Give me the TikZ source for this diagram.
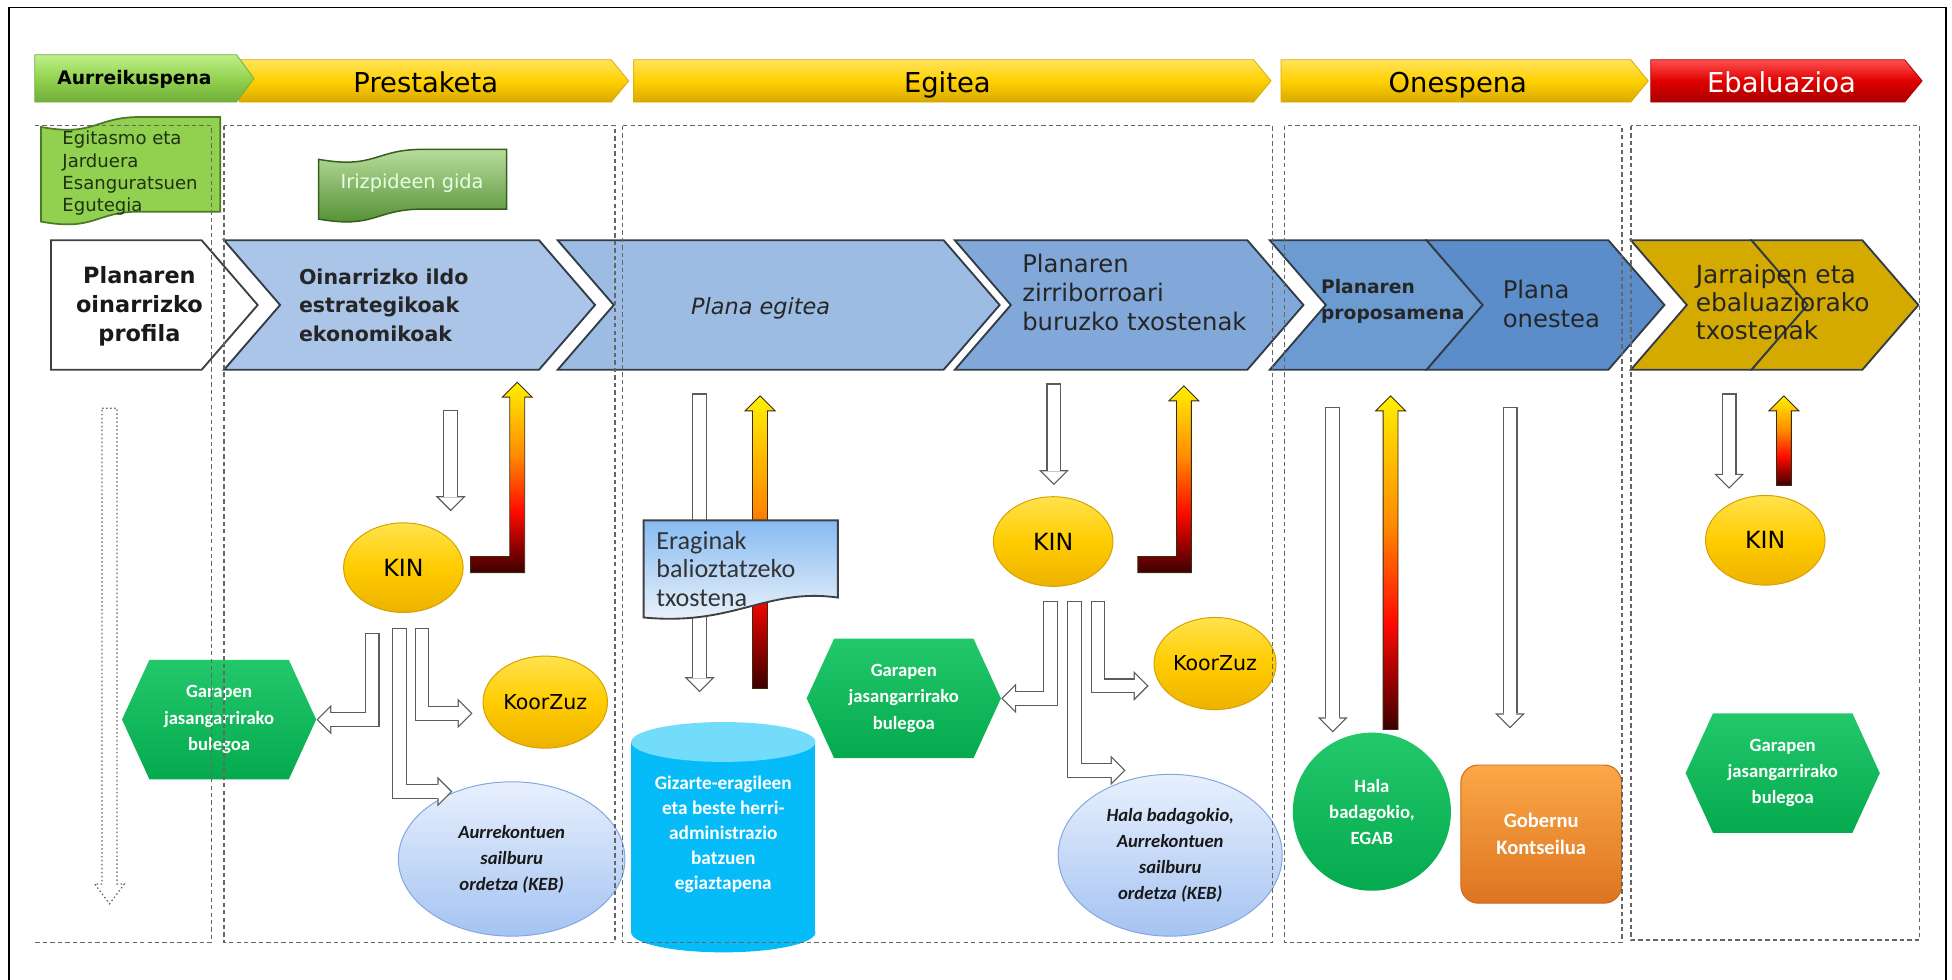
\documentclass[tikz,border=0pt]{standalone}
\usepackage{fontspec}
\setmainfont{DejaVu Sans}
\newfontfamily\calfont{Carlito}
\usetikzlibrary{shapes.geometric, arrows.meta}

\definecolor{phaseYa}{HTML}{FFE45C}
\definecolor{phaseYb}{HTML}{FFD000}
\definecolor{phaseYc}{HTML}{D9A800}
\definecolor{phaseGa}{HTML}{BDF08A}
\definecolor{phaseGb}{HTML}{94D250}
\definecolor{phaseGc}{HTML}{6FAE3A}
\definecolor{phaseRa}{HTML}{FF5050}
\definecolor{phaseRb}{HTML}{E00000}
\definecolor{phaseRc}{HTML}{A80000}
\definecolor{chevedge}{HTML}{323C48}
\definecolor{chevA}{HTML}{AAC5E8}
\definecolor{chevB}{HTML}{9DBCE3}
\definecolor{chevC}{HTML}{81A8D8}
\definecolor{chevD}{HTML}{6C9BD2}
\definecolor{chevE}{HTML}{5B8DCB}
\definecolor{chevF}{HTML}{D5AA00}
\definecolor{docgreen}{HTML}{92D050}
\definecolor{docedge}{HTML}{4E7A26}
\definecolor{egutext}{HTML}{1F3310}
\definecolor{gidatop}{HTML}{B8DC9C}
\definecolor{gidabot}{HTML}{4D8A2C}
\definecolor{gidaedge}{HTML}{355F1F}
\definecolor{kinTop}{HTML}{FFE24D}
\definecolor{kinMid}{HTML}{FFCC00}
\definecolor{kinBot}{HTML}{EDB200}
\definecolor{kinEdge}{HTML}{D6A200}
\definecolor{kebTop}{HTML}{E8F0FD}
\definecolor{kebBot}{HTML}{A5C3F2}
\definecolor{kebEdge}{HTML}{84A8DE}
\definecolor{garTop}{HTML}{22C86A}
\definecolor{garBot}{HTML}{05AA4E}
\definecolor{gobTop}{HTML}{FBA847}
\definecolor{gobBot}{HTML}{DE7420}
\definecolor{gobEdge}{HTML}{C8681C}
\definecolor{cylBody}{HTML}{06BCF8}
\definecolor{cylTop}{HTML}{74DCFB}
\definecolor{docBlueTop}{HTML}{86BBF2}
\definecolor{docBlueBot}{HTML}{F2F5FB}
\definecolor{hollowGray}{HTML}{5C5C5C}
\definecolor{heatEdge}{HTML}{3A2A10}
\definecolor{heatA}{HTML}{3C0000}
\definecolor{heatB}{HTML}{9A0000}
\definecolor{heatC}{HTML}{FF0A00}
\definecolor{heatD}{HTML}{FF8C00}
\definecolor{heatE}{HTML}{FFF000}

% path box is mapped onto 25bp..75bp of the shading
\pgfdeclareverticalshading{heat}{100bp}{color(0bp)=(heatA); color(25bp)=(heatA); color(32.5bp)=(heatB); color(41bp)=(heatC); color(56bp)=(heatD); color(75bp)=(heatE); color(100bp)=(heatE)}

\tikzset{%
frameline/.style={draw=black, line width=1.5pt},
boxline/.style={draw=black!60, line width=1.1pt, dash pattern=on 3.5pt off 2.5pt},
dotline/.style={draw=black!60, line width=1pt, dash pattern=on 1.2pt off 2pt},
phasetext/.style={anchor=base, font=\fontsize{22}{26}\selectfont},
yellowphase/.style={top color=phaseYa, bottom color=phaseYc, middle color=phaseYb, draw=phaseYc, line width=0.6pt},
greenphase/.style={top color=phaseGa, bottom color=phaseGc, middle color=phaseGb, draw=phaseGc, line width=0.6pt},
redphase/.style={top color=phaseRa, bottom color=phaseRc, middle color=phaseRb, draw=phaseRc, line width=0.6pt},
chevline/.style={draw=chevedge, line width=1.5pt},
profline/.style={fill=white, draw=black!75, line width=1.5pt},
chevtext/.style={anchor=west, align=left, inner sep=0pt, text=black!85, font=\fontsize{19.5}{23}\selectfont},
wavegreen/.style={fill=docgreen, draw=docedge, line width=1.4pt},
wavegida/.style={top color=gidatop, bottom color=gidabot, draw=gidaedge, line width=1.2pt},
docblue/.style={top color=docBlueTop, bottom color=docBlueBot, draw=black!75, line width=1.5pt},
heatline/.style={draw=heatEdge, line width=0.7pt},
kinnode/.style={ellipse, inner sep=0pt, minimum width=96pt, minimum height=72pt, top color=kinTop, bottom color=kinBot, middle color=kinMid, draw=kinEdge, line width=0.8pt, font=\fontsize{19}{22}\selectfont},
korznode/.style={kinnode, minimum width=100pt, minimum height=74pt, font=\fontsize{16.5}{20}\selectfont},
kebnode/.style={ellipse, inner sep=0pt, top color=kebTop, bottom color=kebBot, draw=kebEdge, line width=0.8pt, align=center, text=black!90, font=\calfont\bfseries\itshape\fontsize{15}{21}\selectfont},
garfill/.style={top color=garTop, bottom color=garBot},
gartext/.style={inner sep=0pt, align=center, text=white, minimum width=156pt, minimum height=96pt, font=\calfont\bfseries\fontsize{15}{21}\selectfont},
egabnode/.style={circle, inner sep=0pt, minimum size=127pt, top color=garTop, bottom color=garBot, text=white, align=center, font=\calfont\bfseries\fontsize{15}{21}\selectfont},
gobnode/.style={rectangle, rounded corners=14pt, minimum width=129pt, minimum height=111pt, top color=gobTop, bottom color=gobBot, draw=gobEdge, line width=0.8pt, text=white, align=center, font=\calfont\bfseries\fontsize{16.5}{22}\selectfont},
cyltext/.style={align=center, text=white, font=\calfont\bfseries\fontsize{15.5}{20}\selectfont},
hollow/.style={draw=hollowGray, line width=12pt, line join=miter, shorten >=#1,
  -{Triangle[length=12pt, width=24pt, line width=0pt]},
  postaction={draw=white, line width=10pt, shorten >=#1+1.414pt, shorten <=1pt,
    -{Triangle[length=9.6pt, width=19.2pt, line width=0pt]}}},
hollow/.default=0pt,
}
\tikzset{%
pics/.cd,
phase/.style args={#1/#2/#3}{
  code={\path[#3] (0,0) -- (#1,0) -- (#1+14,#2/2) -- (#1,#2) -- (0,#2) -- cycle;
  }
},
%pics/.cd,
chevron/.style args={#1/#2}{
  code={\path[chevline, fill=#2] (0,0) -- (#1,0) -- (#1+45,52) -- (#1,104) -- (0,104) -- (45,52) -- cycle;
  }
},
%pics/.cd,
wavedoc/.style args={#1/#2/#3}{
  code={\path[#3] (0,8) .. controls (#1*0.3,16) and (#1*0.3,0) .. (#1*0.55,0) -- (#1,0) -- (#1,#2)
       -- (#1*0.55,#2) .. controls (#1*0.3,#2) and (#1*0.3,#2+16) .. (0,#2+8) -- cycle;
  }
},
%pics/.cd,
hexbox/.style args={#1#2}{
  code={\path[garfill] (-78,0) -- (-56,-48) -- (56,-48) -- (78,0) -- (56,48) -- (-56,48) -- cycle;
       \node[gartext] (#1) {#2};
  }
},
%pics/.cd,
heatup/.style={
  code={\shadedraw[heatline, shading=heat] (0,0) -- (12,12) -- (6,12) -- (6,#1) -- (-6,#1) -- (-6,12) -- (-12,12) -- cycle;
  }
},
%pics/.cd,
heatbend/.style args={#1/#2}{
  code={\shadedraw[heatline, shading=heat] (0,0) -- (12,12) -- (6,12) -- (6,#1) -- (-6-#2,#1)
       -- (-6-#2,#1-13) -- (-6,#1-13) -- (-6,12) -- (-12,12) -- cycle;
  }
},
}

\begin{document}
\begin{tikzpicture}[x=1pt, y=-1pt]
 \useasboundingbox (0,0) rectangle (1568,787);
 \draw[frameline] (7,787) -- (7,6) -- (1563,6) -- (1563,787);

 % phases
 \pic at (192,48) {phase=299/34/yellowphase};
 \pic at (509,48) {phase=498/34/yellowphase};
 \pic at (1029,48) {phase=281/34/yellowphase};
 \pic at (1326,48) {phase=204/34/redphase};
 \pic at (28,44) {phase=162/38/greenphase};
 \node[phasetext, font=\bfseries\fontsize{15}{18}\selectfont] (phA) at (108,68) {Aurreikuspena};
 \node[phasetext] (phB) at (342,74) {Prestaketa};
 \node[phasetext] (phC) at (761,74) {Egitea};
 \node[phasetext] (phD) at (1171,74) {Onespena};
 \node[phasetext, text=white] (phE) at (1431,74) {Ebaluazioa};

 % documents above the row
 \pic at (33,94) {wavedoc=144/76/wavegreen};
 \node[anchor=west, align=left, inner sep=0pt, text=egutext, font=\fontsize{14.5}{17.7}\selectfont] (tEgut) at (50,139) {Egitasmo eta\\Jarduera\\Esanguratsuen\\Egutegia};
 \pic at (256,120) {wavedoc=151/48/wavegida};
 \node[text=white!90!green, font=\fontsize{15.5}{18}\selectfont] (tGida) at (331,147) {Irizpideen gida};

 % chevron row
 \path[profline] (41,193) -- (162,193) -- (207,245) -- (162,297) -- (41,297) -- cycle;
 \pic at (180,193) {chevron=253/chevA};
 \pic at (448,193) {chevron=310/chevB};
 \pic at (767,193) {chevron=235/chevC};
 \pic at (1020,193) {chevron=126/chevD};
 \pic at (1146,193) {chevron=146/chevE};
 \pic at (1310,193) {chevron=97/chevF};
 \pic at (1407,193) {chevron=89/chevF};
 \node[align=center, text=black!90, font=\bfseries\fontsize{18}{23.5}\selectfont] (tProf) at (112,246) {Planaren\\oinarrizko\\profila};
 \node[chevtext, font=\bfseries\fontsize{16.5}{23}\selectfont] (tIldo) at (240,245) {Oinarrizko ildo\\estrategikoak\\ekonomikoak};
 \node[anchor=base, text=black!85, font=\itshape\fontsize{18}{22}\selectfont] (tEgin) at (611,253) {Plana egitea};
 \node[chevtext] (tZirri) at (821,235) {Planaren\\zirriborroari\\buruzko txostenak};
 \node[chevtext, font=\bfseries\fontsize{15}{21}\selectfont] (tProp) at (1061,242) {Planaren\\proposamena};
 \node[chevtext] (tOnes) at (1207,244) {Plana\\onestea};
 \node[chevtext, font=\fontsize{20}{22.5}\selectfont] (tJarr) at (1362,243) {Jarraipen eta\\ebaluaziorako\\txostenak};

 % gradient arrows
 \pic at (415.5,307) {heatbend=153/31.5};
 \pic at (951,310) {heatbend=150/31};
 \pic at (610.5,318) {heatup=235};
 \pic at (1117,318) {heatup=268};
 \pic at (1433,318) {heatup=72};

 % egitea: report and check
 \coordinate (evalTop) at (562,316);
 \coordinate (evalEnd) at (562,556);
 \draw[hollow] (evalTop) -- (evalEnd);
 \path[docblue] (517,418) -- (673,418) -- (673,480) .. controls (615,472) and (590,503) .. (517,496) -- cycle;
 \node[anchor=west, align=left, inner sep=0pt, text=black!80, font=\calfont\fontsize{21}{23}\selectfont] (tErag) at (527,457) {Eraginak\\balioztatzeko\\txostena};
 \fill[cylBody] (507,596) rectangle (655,749);
 \fill[cylBody] (581,749) ellipse [x radius=74, y radius=16];
 \fill[cylTop] (581,596) ellipse [x radius=74, y radius=16];
 \node[cyltext] (cyl) at (581,670) {Gizarte-eragileen\\eta beste herri-\\administrazio\\batzuen\\egiaztapena};

 % actors
 \node[kinnode] (kinA) at (324,456) {KIN};
 \node[korznode] (korA) at (438,564) {KoorZuz};
 \node[kebnode, minimum width=182pt, minimum height=124pt] (kebA) at (411,690) {Aurrekontuen\\sailburu\\ordetza (KEB)};
 \pic at (176,578) {hexbox={garA}{Garapen\\jasangarrirako\\bulegoa}};
 \node[kinnode] (kinB) at (846,435) {KIN};
 \node[korznode, minimum width=98pt] (korB) at (976,533) {KoorZuz};
 \node[kebnode, minimum width=180pt, minimum height=130pt] (kebB) at (940,687) {Hala badagokio,\\Aurrekontuen\\sailburu\\ordetza (KEB)};
 \pic at (726,561) {hexbox={garB}{Garapen\\jasangarrirako\\bulegoa}};
 \node[egabnode] (egab) at (1102,652) {Hala\\badagokio,\\EGAB};
 \node[gobnode] (gob) at (1238,670) {Gobernu\\Kontseilua};
 \node[kinnode] (kinC) at (1418,434) {KIN};
 \pic at (1432,621) {hexbox={garC}{Garapen\\jasangarrirako\\bulegoa}};

 % hollow connectors
 \coordinate (prepTop) at (362,329);
 \draw[hollow=9pt] (prepTop) -- (prepTop |- kinA.north);
 \draw[hollow] ([shift={(-25,16)}]kinA.south) |- (garA.east);
 \draw[hollow=8pt] ([shift={(15,12)}]kinA.south) |- ([shift={(0,9)}]korA.west);
 \draw[hollow] ([shift={(-3,12)}]kinA.south) |- ([shift={(17,-10)}]kebA.north west);
 \coordinate (zirTop) at (846.5,308);
 \draw[hollow=9pt] (zirTop) -- (zirTop |- kinB.north);
 \draw[hollow] ([shift={(-2,11)}]kinB.south) |- (garB.east);
 \draw[hollow] ([shift={(17,11)}]kinB.south) |- ([shift={(28,-22)}]kebB.north west);
 \draw[hollow=4pt] ([shift={(36,11)}]kinB.south) |- ([shift={(0,18)}]korB.west);
 \coordinate (propTop) at (1070.5,327);
 \draw[hollow] (propTop) -- (propTop |- egab.north);
 \coordinate (onesTop) at (1213,327);
 \draw[hollow=29pt] (onesTop) -- (onesTop |- gob.north);
 \coordinate (ebalTop) at (1389,316);
 \draw[hollow=5pt] (ebalTop) -- (ebalTop |- kinC.north);

 % aurreikuspena arrow
 \draw[dotline] (82,328) -- (94,328) -- (94,710) -- (100,710) -- (88,726) -- (76,710) -- (82,710) -- cycle;

 % phase boxes
 \draw[boxline] (28,101) -- (170,101) -- (170,757) -- (28,757);
 \draw[boxline] (180,101) rectangle (494,757);
 \draw[boxline] (500,101) rectangle (1022,757);
 \draw[boxline] (1032,101) rectangle (1303,757);
 \draw[boxline] (1310,101) rectangle (1542,755);
\end{tikzpicture}
\end{document}
